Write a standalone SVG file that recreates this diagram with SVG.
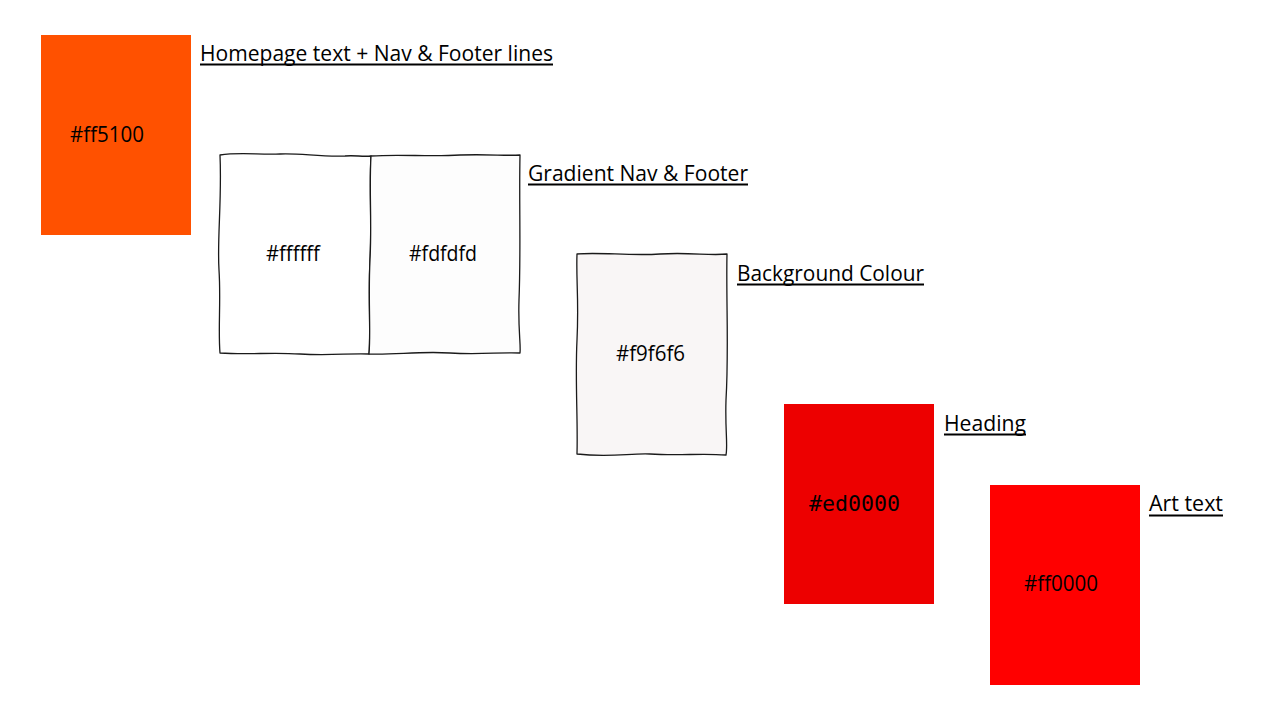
<svg xmlns="http://www.w3.org/2000/svg" width="1280" height="720" viewBox="0 0 1280 720">
<style>
.lbl{font-family:"Open Sans","Noto Sans",sans-serif;font-size:21px;fill:#000}
.hex{font-family:"Open Sans","Noto Sans",sans-serif;font-size:21px;fill:#000}
.mono{font-family:"DejaVu Sans Mono","Liberation Mono",monospace;font-size:21px;fill:#000}
.ul{stroke:#000;stroke-width:2}
.sketch{stroke:#1a1a1a;stroke-width:1.3;stroke-linejoin:round}
</style>
<rect width="1280" height="720" fill="#fff"/>
<g id="swatch-ff5100">
<rect x="41" y="35" width="150" height="200" fill="#ff5100"/>
<text class="hex" x="70" y="142" textLength="74" lengthAdjust="spacingAndGlyphs">#ff5100</text>
<text class="lbl" x="200" y="61" textLength="353" lengthAdjust="spacingAndGlyphs">Homepage text + Nav &amp; Footer lines</text>
<line class="ul" x1="200" y1="64.5" x2="553" y2="64.5"/>
</g>
<g id="swatch-ffffff">
<path class="sketch" fill="#ffffff" d="M220,155 C240,152 260,155 280,154 C300,153 320,157 345,156 C355,155 362,157 371,156 C369,190 372,220 370,260 C368,300 371,330 369,354 C350,353 330,356 300,354 C270,352 250,355 220,353 C218,330 221,300 219,270 C217,240 222,200 220,155 Z"/>
<text class="hex" x="266" y="261" textLength="54" lengthAdjust="spacingAndGlyphs">#ffffff</text>
</g>
<g id="swatch-fdfdfd">
<path class="sketch" fill="#fdfdfd" d="M371,156 C400,154 430,157 460,155 C490,154 505,156 520,155 C519,200 521,250 519,300 C518,330 521,345 520,353 C500,352 480,355 450,353 C420,351 395,355 369,354 C371,330 368,300 370,260 C372,220 369,190 371,156 Z"/>
<text class="hex" x="409" y="261" textLength="68" lengthAdjust="spacingAndGlyphs">#fdfdfd</text>
<text class="lbl" x="528" y="181" textLength="220" lengthAdjust="spacingAndGlyphs">Gradient Nav &amp; Footer</text>
<line class="ul" x1="528" y1="184.5" x2="748" y2="184.5"/>
</g>
<g id="swatch-f9f6f6">
<path class="sketch" fill="#f9f6f6" d="M577,254 C600,252 630,256 660,254 C690,252 710,256 727,254 C726,300 729,350 726,400 C725,430 728,445 726,455 C700,453 680,456 650,454 C630,453 610,458 577,454 C578,420 575,380 577,340 C579,300 576,280 577,254 Z"/>
<text class="hex" x="616" y="361" textLength="69" lengthAdjust="spacingAndGlyphs">#f9f6f6</text>
<text class="lbl" x="737" y="281" textLength="187" lengthAdjust="spacingAndGlyphs">Background Colour</text>
<line class="ul" x1="737" y1="284.5" x2="924" y2="284.5"/>
</g>
<g id="swatch-ed0000">
<rect x="784" y="404" width="150" height="200" fill="#ed0000"/>
<text class="mono" x="809" y="511" textLength="91" lengthAdjust="spacingAndGlyphs">#ed0000</text>
<text class="lbl" x="944" y="431" textLength="82" lengthAdjust="spacingAndGlyphs">Heading</text>
<line class="ul" x1="944" y1="434.5" x2="1026" y2="434.5"/>
</g>
<g id="swatch-ff0000">
<rect x="990" y="485" width="150" height="200" fill="#ff0000"/>
<text class="hex" x="1024" y="591" textLength="74" lengthAdjust="spacingAndGlyphs">#ff0000</text>
<text class="lbl" x="1149" y="511" textLength="74" lengthAdjust="spacingAndGlyphs">Art text</text>
<line class="ul" x1="1149" y1="515.5" x2="1223" y2="515.5"/>
</g>
<g id="connectors"/>
</svg>
